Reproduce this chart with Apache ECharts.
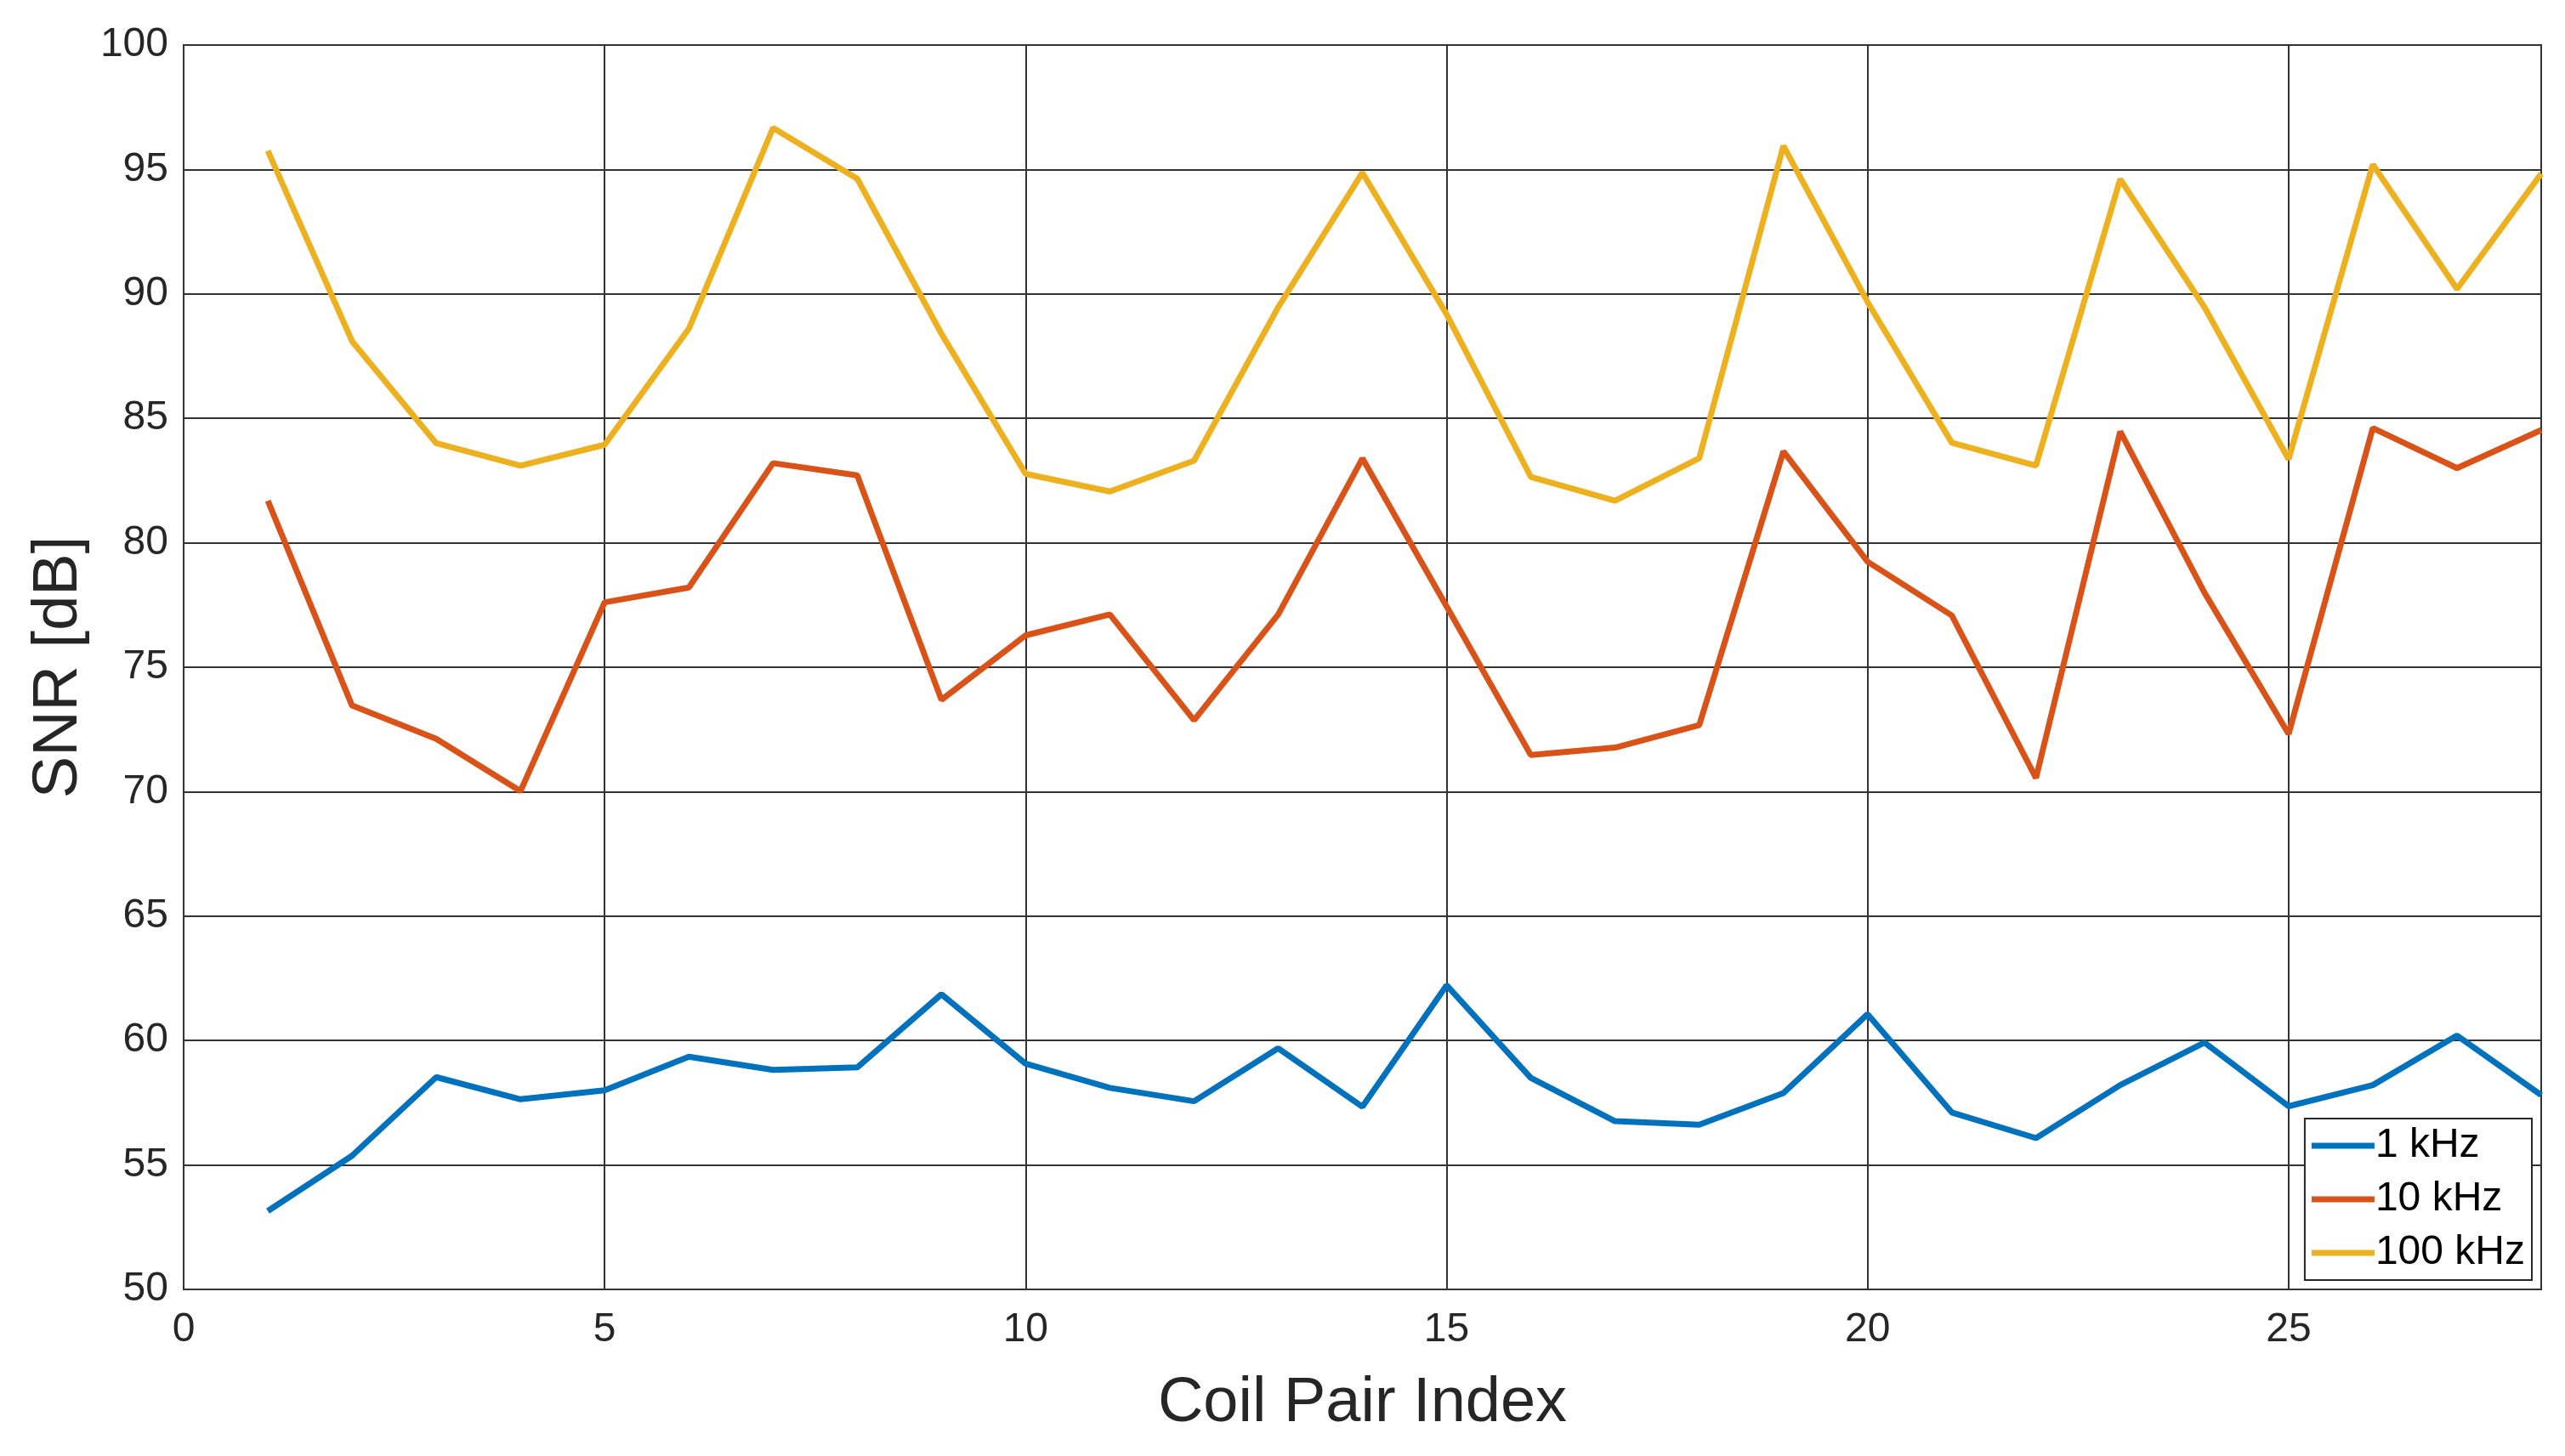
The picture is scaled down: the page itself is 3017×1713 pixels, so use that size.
<!DOCTYPE html>
<html>
<head>
<meta charset="utf-8">
<script src="https://cdn.jsdelivr.net/npm/echarts@6/dist/echarts.min.js"></script>
<style>
html,body{margin:0;padding:0;background:#fff;}
#chart{width:3017px;height:1713px;}
</style>
</head>
<body>
<div id="chart"></div>
<script>
// Data
const coilIndex = [1,2,3,4,5,6,7,8,9,10,11,12,13,14,15,16,17,18,19,20,21,22,23,24,25,26,27,28];
const snr1k   = [53.15,55.37,58.53,57.64,58.0,59.35,58.82,58.92,61.86,59.07,58.1,57.56,59.69,57.34,62.22,58.5,56.76,56.62,57.89,61.06,57.11,56.08,58.21,59.92,57.36,58.21,60.2,57.81];
const snr10k  = [81.69,73.46,72.12,70.02,77.61,78.2,83.2,82.71,73.69,76.28,77.12,72.87,77.12,83.39,77.44,71.47,71.77,72.67,83.67,79.24,77.08,70.55,84.47,78.0,72.32,84.61,83.0,84.53];
const snr100k = [95.75,88.1,84.0,83.1,83.94,88.6,96.67,94.63,88.4,82.77,82.06,83.3,89.47,94.87,89.18,82.65,81.69,83.4,95.95,89.67,84.02,83.1,94.61,89.47,83.36,95.2,90.2,94.83];
const seriesNames = ['1 kHz','10 kHz','100 kHz'];
const seriesColors = ['#0072BD','#D95319','#EDB120'];
const xTicks = {min:0, max:28, interval:5};
const yTicks = {min:50, max:100, interval:5};

const values = [snr1k, snr10k, snr100k];
const FONT = '"Liberation Sans", Arial, Helvetica, sans-serif';

const chart = echarts.init(document.getElementById('chart'), null, {renderer:'canvas'});
chart.setOption({
  backgroundColor:'#ffffff',
  animation:false,
  grid:{left:216, right:28, top:53, bottom:196, show:true, borderColor:'#262626', borderWidth:2, backgroundColor:'transparent'},
  legend:{
    orient:'vertical', right:39, bottom:207,
    backgroundColor:'#ffffff',
    borderColor:'#262626', borderWidth:2, borderRadius:0,
    padding:[8,8,8,8], itemGap:15, itemWidth:74, itemHeight:48,
    textStyle:{fontFamily:FONT, fontSize:48, color:'#000', padding:[0,0,0,-4]},
    data:seriesNames.map((n,i)=>({name:n, icon:'path://M0,0 L74,0 L74,7 L0,7 Z', itemStyle:{color:seriesColors[i]}}))
  },
  xAxis:{
    type:'value', min:xTicks.min, max:xTicks.max, interval:xTicks.interval,
    name:'Coil Pair Index', nameLocation:'middle', nameGap:98,
    nameTextStyle:{fontFamily:FONT, fontSize:74, color:'#262626'},
    axisLine:{show:false}, axisTick:{show:false},
    axisLabel:{fontFamily:FONT, fontSize:48, color:'#262626', margin:24, showMaxLabel:false},
    splitLine:{show:true, lineStyle:{color:'#333333', width:2}}
  },
  yAxis:{
    type:'value', min:yTicks.min, max:yTicks.max, interval:yTicks.interval,
    name:'SNR [dB]', nameLocation:'middle', nameGap:106,
    nameTextStyle:{fontFamily:FONT, fontSize:74, color:'#262626'},
    axisLine:{show:false}, axisTick:{show:false},
    axisLabel:{fontFamily:FONT, fontSize:48, color:'#262626', margin:18},
    splitLine:{show:true, lineStyle:{color:'#333333', width:2}}
  },
  series: seriesNames.map((n,i)=>({
    name:n, type:'line', showSymbol:false, symbol:'none',
    data: coilIndex.map((x,k)=>[x, values[i][k]]),
    lineStyle:{color:seriesColors[i], width:7},
    itemStyle:{color:seriesColors[i]},
    z: 3
  }))
});
</script>
</body>
</html>
